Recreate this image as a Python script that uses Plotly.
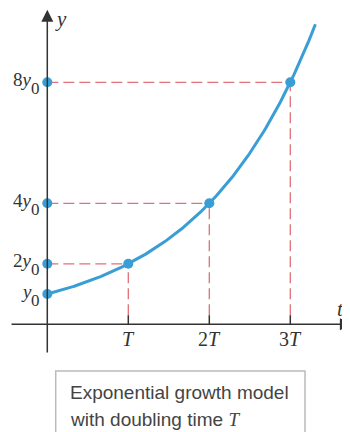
import numpy as np
import plotly.graph_objects as go

# doubling model y = y0 * 2^(t/T), in units of T and y0
doublings = [0, 1, 2, 3]
values = [1, 2, 4, 8]
y_labels = ["<i>y</i>", "2<i>y</i>", "4<i>y</i>", "8<i>y</i>"]   # each followed by subscript 0
t_labels = ["<i>T</i>", "2<i>T</i>", "3<i>T</i>"]
t_end = 3.31

BLUE = "#3a9ed6"
RED = "#e0707a"
AX = "#333333"
SERIF = "Liberation Serif"

# page has an 8px body margin, so the figure starts at (8, 8)
OFF = 8
W, H = 350 - OFF, 432 - OFF
X0, Y0 = 47.3 - OFF, 324.3 - OFF   # origin in figure pixels
SX, SY = 81, 30.25                  # px per T, px per y0

t = np.linspace(0, t_end, 200)
curve = 2 ** t

fig = go.Figure()

# dashed guides
for k, v in zip(doublings[1:], values[1:]):
    fig.add_trace(go.Scatter(x=[0, k], y=[v, v], mode="lines",
                             line=dict(color=RED, width=1.3, dash="11px,5px"), hoverinfo="skip"))
    fig.add_trace(go.Scatter(x=[k, k], y=[0.3, v], mode="lines",
                             line=dict(color=RED, width=1.3, dash="11px,5px"), hoverinfo="skip"))
    fig.add_trace(go.Scatter(x=[k, k], y=[0, 0.3], mode="lines",
                             line=dict(color=AX, width=1.5), hoverinfo="skip"))

fig.add_trace(go.Scatter(x=t, y=curve, mode="lines", line=dict(color=BLUE, width=3), hoverinfo="skip"))
fig.add_trace(go.Scatter(x=doublings[1:], y=values[1:], mode="markers",
                         marker=dict(color=BLUE, size=10), hoverinfo="skip"))
fig.add_trace(go.Scatter(x=[0] * len(values), y=values, mode="markers",
                         marker=dict(color=BLUE, size=10), hoverinfo="skip"))

ann = []
# axes with arrows
ann.append(dict(x=3.76, y=0, ax=-0.46, ay=0, xref="x", yref="y", axref="x", ayref="y",
                showarrow=True, arrowhead=2, arrowsize=1.6, arrowwidth=1.5, arrowcolor=AX, text=""))
ann.append(dict(x=0, y=10.4, ax=0, ay=-0.98, xref="x", yref="y", axref="x", ayref="y",
                showarrow=True, arrowhead=2, arrowsize=1.6, arrowwidth=1.5, arrowcolor=AX, text=""))
ann.append(dict(x=0.17, y=10.1, text="<i>y</i>", showarrow=False, xanchor="center",
                font=dict(family=SERIF, size=21, color=AX)))
ann.append(dict(x=3.62, y=0.5, text="<i>t</i>", showarrow=False, xanchor="center",
                font=dict(family=SERIF, size=21, color=AX)))

for v, lab in zip(values, y_labels):
    ann.append(dict(x=-0.07, y=v, text=lab, showarrow=False, xanchor="right", yanchor="middle",
                    xshift=-7.5, yshift=3, font=dict(family=SERIF, size=19, color=AX)))
    ann.append(dict(x=-0.07, y=v, text="0", showarrow=False, xanchor="right", yanchor="middle",
                    yshift=-6, font=dict(family=SERIF, size=17, color=AX)))
for k, lab in zip(doublings[1:], t_labels):
    ann.append(dict(x=k, y=-0.5, text=lab, showarrow=False, xanchor="center", yanchor="middle",
                    font=dict(family=SERIF, size=20, color=AX)))

# caption
ann.append(dict(x=(68 - OFF) / W, y=1 - (392 - OFF) / H, xref="paper", yref="paper",
                xanchor="left", yanchor="middle", text="Exponential growth model", showarrow=False,
                font=dict(family="Liberation Sans", size=19, color="#444444")))
ann.append(dict(x=(68 - OFF) / W, y=1 - (419 - OFF) / H, xref="paper", yref="paper",
                xanchor="left", yanchor="middle",
                text="with doubling time <i><span style='font-family:Liberation Serif'>T</span></i>",
                showarrow=False, font=dict(family="Liberation Sans", size=19, color="#444444")))

fig.add_shape(type="rect", xref="paper", yref="paper", x0=(55.7 - OFF) / W, x1=(305 - OFF) / W,
              y0=-0.02, y1=1 - (371 - OFF) / H, line=dict(color="#bbbbbb", width=1.5))

fig.update_layout(
    width=W, height=H,
    margin=dict(l=0, r=0, t=0, b=0),
    paper_bgcolor="white", plot_bgcolor="white",
    showlegend=False,
    annotations=ann,
    xaxis=dict(range=[-X0 / SX, (W - X0) / SX], visible=False),
    yaxis=dict(range=[(Y0 - H) / SY, Y0 / SY], visible=False),
)

fig.write_html("out.html")
